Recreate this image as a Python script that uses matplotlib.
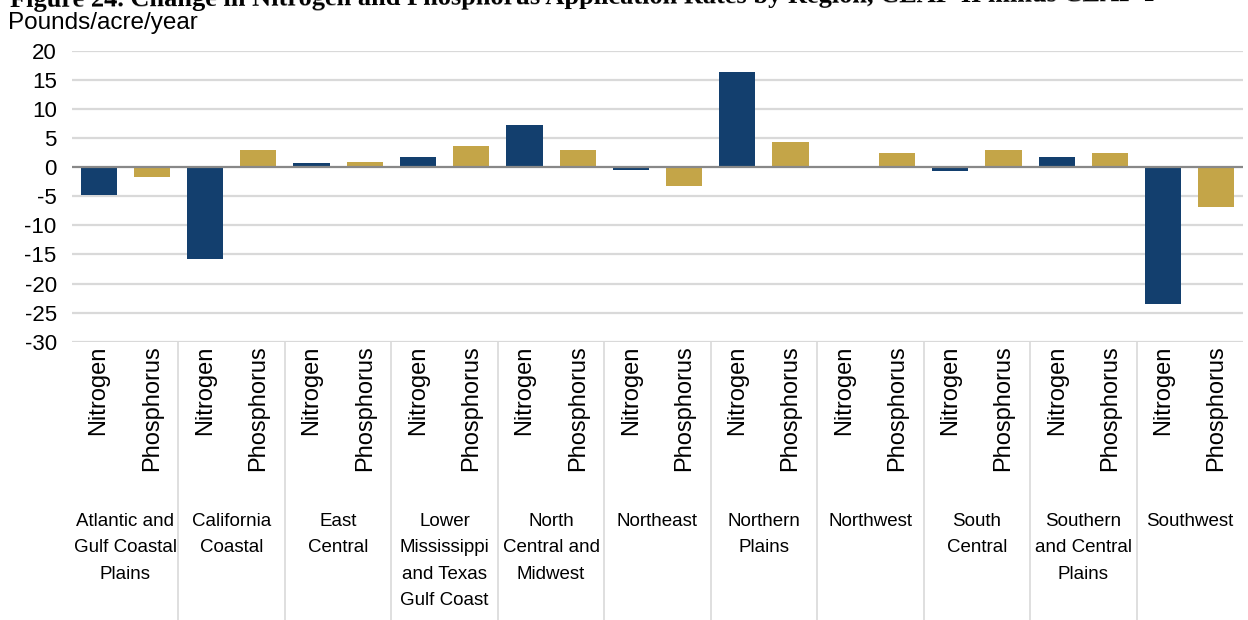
import matplotlib.pyplot as plt
import numpy as np

# Data (pounds/acre/year, CEAP-II minus CEAP-I)
regions = [
    "Atlantic and\nGulf Coastal\nPlains",
    "California\nCoastal",
    "East\nCentral",
    "Lower\nMississippi\nand Texas\nGulf Coast",
    "North\nCentral and\nMidwest",
    "Northeast",
    "Northern\nPlains",
    "Northwest",
    "South\nCentral",
    "Southern\nand Central\nPlains",
    "Southwest",
]
nitrogen = [-4.8, -15.8, 0.8, 1.8, 7.3, -0.5, 16.4, 0.0, -0.7, 1.8, -23.6]
phosphorus = [-1.6, 3.0, 0.9, 3.7, 2.9, -3.3, 4.4, 2.4, 3.0, 2.4, -6.8]
nutrients = ["Nitrogen", "Phosphorus"]
yticks = [20, 15, 10, 5, 0, -5, -10, -15, -20, -25, -30]

title = ("Figure 24. Change in Nitrogen and Phosphorus Application Rates by Region, "
         "CEAP-II minus CEAP-I")

NAVY = "#133F6E"
GOLD = "#C4A548"
GRID = "#D9D9D9"

W, H = 1248, 620
fig = plt.figure(figsize=(W / 100, H / 100), dpi=100)
ax = fig.add_axes([72 / W, 1 - 341.7 / H, (1243 - 72) / W, (341.7 - 51) / H])

sans = ["Liberation Sans", "DejaVu Sans"]

n = len(regions)
x = np.arange(n)
ax.bar(x + 0.25, nitrogen, width=0.34, color=NAVY, zorder=3)
ax.bar(x + 0.75, phosphorus, width=0.34, color=GOLD, zorder=3)

ax.set_xlim(0, n)
ax.set_ylim(-30, 20)
ax.set_yticks(yticks)
ax.set_yticklabels([str(t) for t in yticks], family=sans, fontsize=16)
ax.tick_params(axis="y", length=0, pad=11)
ax.set_xticks([])

for t in yticks:
    if t == 0:
        continue
    ax.axhline(t, color=GRID, lw=1.6, zorder=1)
ax.axhline(0, color="#888888", lw=1.6, zorder=4)

for s in ax.spines.values():
    s.set_visible(False)

# group separators below the axis
tr = ax.get_xaxis_transform()
for i in range(1, n):
    ax.plot([i, i], [0, -0.96], color=GRID, lw=1.2, transform=tr, clip_on=False)

# rotated nutrient labels and region names
for i in range(n):
    for j, name in enumerate(nutrients):
        ax.text(i + 0.25 + 0.5 * j, -0.012, name, transform=tr, rotation=90,
                ha="center", va="top", fontsize=17, family=sans)
    fig.text((72 + (i + 0.5) * (1171 / n)) / W, 1 - 513 / H, regions[i],
             ha="center", va="top", fontsize=13.5, family=sans, linespacing=1.72)

fig.text(8 / W, 1 - 22.5 / H, "Pounds/acre/year", ha="left", va="center",
         fontsize=17.5, family=sans)
# the scanned title is cut off at the top and slightly tilted
fig.text(10 / W, 1 - 7.5 / H, title, ha="left", va="baseline", fontsize=19,
         family=["Liberation Serif", "DejaVu Serif"], fontweight="bold",
         rotation=0.3, rotation_mode="anchor")

fig.savefig("out.png", dpi=100)
